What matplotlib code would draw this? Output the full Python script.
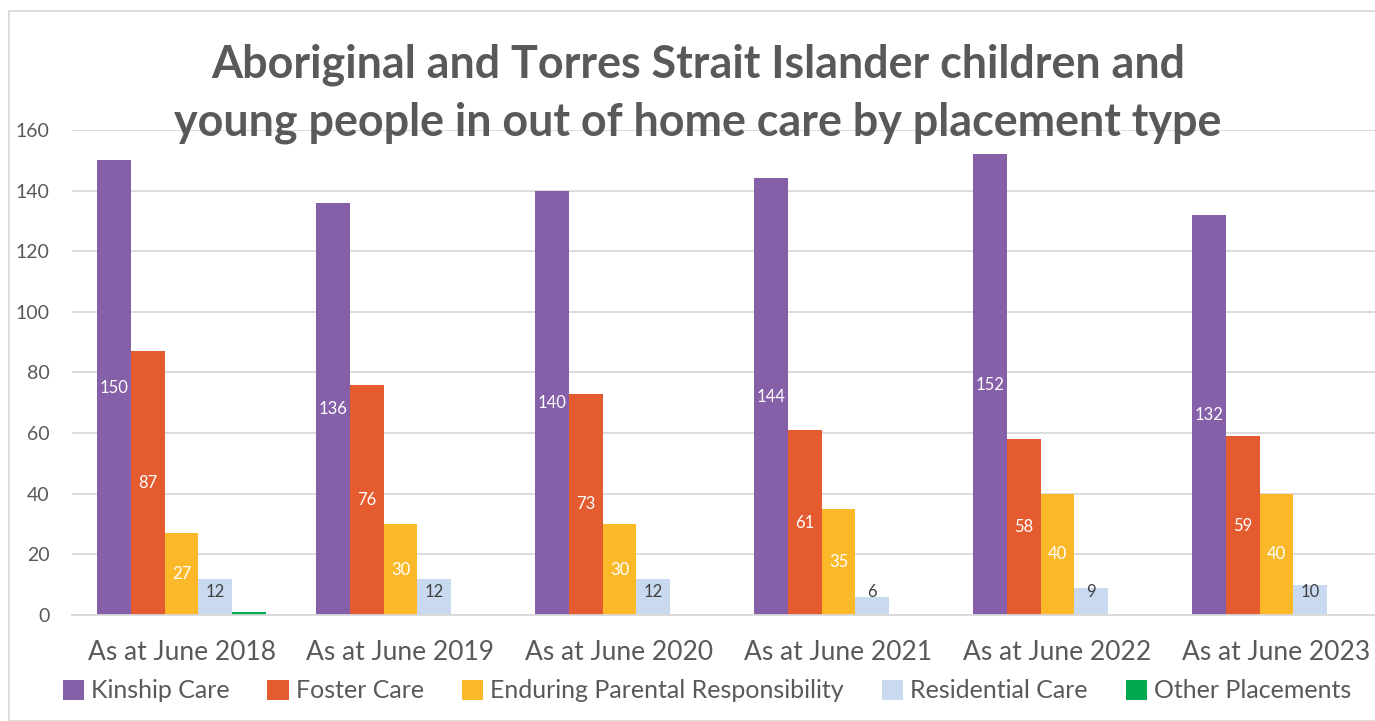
import matplotlib
matplotlib.use("Agg")
import matplotlib.pyplot as plt
import numpy as np
from matplotlib.patches import Rectangle

categories = ["As at June 2018", "As at June 2019", "As at June 2020",
              "As at June 2021", "As at June 2022", "As at June 2023"]
series_names = ["Kinship Care", "Foster Care", "Enduring Parental Responsibility",
                "Residential Care", "Other Placements"]
kinship = [150, 136, 140, 144, 152, 132]
foster = [87, 76, 73, 61, 58, 59]
enduring = [27, 30, 30, 35, 40, 40]
residential = [12, 12, 12, 6, 9, 10]
other = [1, 0, 0, 0, 0, 0]
yticks = [0, 20, 40, 60, 80, 100, 120, 140, 160]

series = [kinship, foster, enduring, residential, other]
colors = ["#8560A8", "#E35B2F", "#FBB829", "#C9DAF0", "#00A94F"]
label_colors = ["white", "white", "white", "#404040", None]

plt.rcParams['font.family'] = ['Lato', 'DejaVu Sans']
TXT = "#595959"

W, H = 1375, 721
fig = plt.figure(figsize=(W / 100, H / 100), dpi=100)
ax = fig.add_axes([72 / W, (H - 615) / H, 1314 / W, 485 / H])

n = len(series)
x = np.arange(len(categories))
bw = 0.77 / n
for i, (vals, c) in enumerate(zip(series, colors)):
    pos = x - 0.77 / 2 + bw * (i + 0.5)
    ax.bar(pos, vals, width=bw, color=c, zorder=2, label=series_names[i])
    if label_colors[i] is not None:
        for p, v in zip(pos, vals):
            if v > 0:
                ax.text(p, max(v / 2, 7.7), str(v), ha="center", va="center",
                        color=label_colors[i], fontsize=12, zorder=3)

ax.set_xlim(-0.5, len(categories) - 0.5)
ax.set_ylim(0, 160)
ax.set_yticks(yticks)
ax.set_xticks(x)
ax.set_xticklabels(categories)
ax.yaxis.grid(True, color="#D9D9D9", linewidth=1.3, zorder=0)
ax.set_axisbelow(True)
for s in ["top", "right", "left"]:
    ax.spines[s].set_visible(False)
ax.spines["bottom"].set_color("#D9D9D9")
ax.spines["bottom"].set_linewidth(1.3)
ax.tick_params(axis="both", length=0, colors=TXT)
ax.tick_params(axis="y", labelsize=14, pad=16)
ax.tick_params(axis="x", labelsize=19, pad=18)

fig.text(698 / W, 1 - 94 / H,
         "Aboriginal and Torres Strait Islander children and\nyoung people in out of home care by placement type",
         ha="center", va="center", fontsize=32.3, fontweight="bold", color=TXT,
         linespacing=1.45, zorder=5)

handles, labels = ax.get_legend_handles_labels()
fig.legend(handles, labels, loc="center", bbox_to_anchor=(707 / W, 1 - 691 / H),
           ncol=5, frameon=False, fontsize=18, handlelength=0.85, handleheight=0.85,
           handletextpad=0.3, columnspacing=1.5, labelcolor=TXT)

fig.patches.append(Rectangle((9 / W, 0), 2, 1 - 11 / H, transform=fig.transFigure,
                             fill=False, edgecolor="#D9D9D9", linewidth=1.3))

fig.savefig("out.png", dpi=100)
